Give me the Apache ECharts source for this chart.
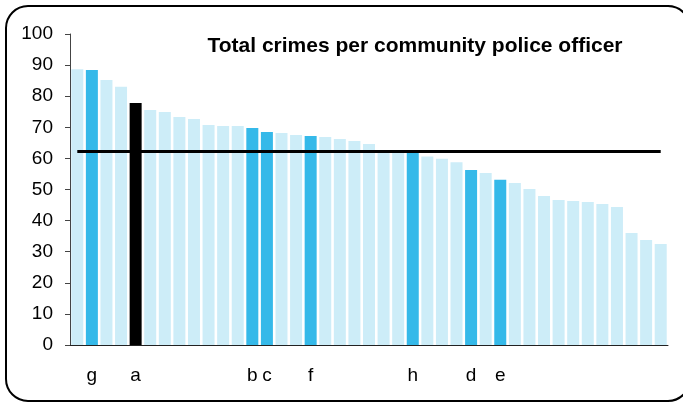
<!DOCTYPE html>
<html>
<head>
<meta charset="utf-8" />
<title>Total crimes per community police officer</title>
<script src="https://cdn.jsdelivr.net/npm/echarts@6/dist/echarts.min.js"></script>
<style>
	html, body { margin: 0; padding: 0; background: #fff; }
	#main { width: 683px; height: 403px; }
</style>
</head>
<body>
<div id="main"></div>
<script>
	// one label per area, most are blank
	var labels = ['', 'g', '', '', 'a', '', '', '', '', '', '', '', 'b', 'c', '', '', 'f', '', '', '', '',
		'', '', 'h', '', '', '', 'd', '', 'e', '', '', '', '', '', '', '', '', '', '', ''];
	var crimes = [88.7, 88.4, 85.2, 83.0, 77.8, 75.6, 74.9, 73.3, 72.7, 70.7, 70.4, 70.4, 69.8, 68.5, 68.2,
		67.5, 67.2, 66.9, 66.2, 65.6, 64.6, 62.5, 62.4, 62.2, 60.6, 59.9, 58.8, 56.3, 55.3, 53.1, 52.1,
		50.2, 47.9, 46.6, 46.3, 46.0, 45.3, 44.4, 36.0, 33.8, 32.5];
	// 0 = other, 1 = highlighted, 2 = own area
	var kind = [0, 1, 0, 0, 2, 0, 0, 0, 0, 0, 0, 0, 1, 1, 0, 0, 1, 0, 0, 0, 0,
		0, 0, 1, 0, 0, 0, 1, 0, 1, 0, 0, 0, 0, 0, 0, 0, 0, 0, 0, 0];
	var average = 62.2;

	var colours = ['#cdedf8', '#35b9e9', '#000000'];
	var myChart = echarts.init(document.getElementById('main'));

	var barData = crimes.map(function(v, i) {
		return { value: v, itemStyle: { color: colours[kind[i]] } };
	});
	var avgData = crimes.map(function() { return average; });

	myChart.setOption({
		animation: false,
		textStyle: { fontFamily: 'Liberation Sans, Arial, sans-serif' },
		title: {
			text: 'Total crimes per community police officer',
			left: 410,
			textAlign: 'center',
			top: 31,
			textStyle: { fontSize: 21, fontWeight: 'bold', color: '#000' }
		},
		graphic: [{
			type: 'rect',
			shape: { x: 6, y: 6, width: 684, height: 395, r: 22 },
			style: { fill: 'none', stroke: '#000', lineWidth: 2 },
			silent: true
		}],
		grid: { left: 70, right: 15, top: 34, bottom: 58 },
		xAxis: {
			type: 'category',
			data: labels,
			axisLine: { lineStyle: { color: '#222', width: 1 } },
			axisTick: { show: false },
			axisLabel: { interval: 0, color: '#000', fontSize: 19, margin: 21 }
		},
		yAxis: {
			type: 'value',
			min: 0,
			max: 100,
			interval: 10,
			splitLine: { show: false },
			axisLine: { show: true, lineStyle: { color: '#444' } },
			axisTick: { show: true, length: 5, lineStyle: { color: '#444' } },
			axisLabel: { color: '#000', fontSize: 19, margin: 17 }
		},
		series: [{
			type: 'bar',
			data: barData,
			barWidth: 12
		}, {
			type: 'line',
			data: avgData,
			symbol: 'none',
			lineStyle: { color: '#000', width: 3 },
			z: 5
		}]
	});
</script>
</body>
</html>
